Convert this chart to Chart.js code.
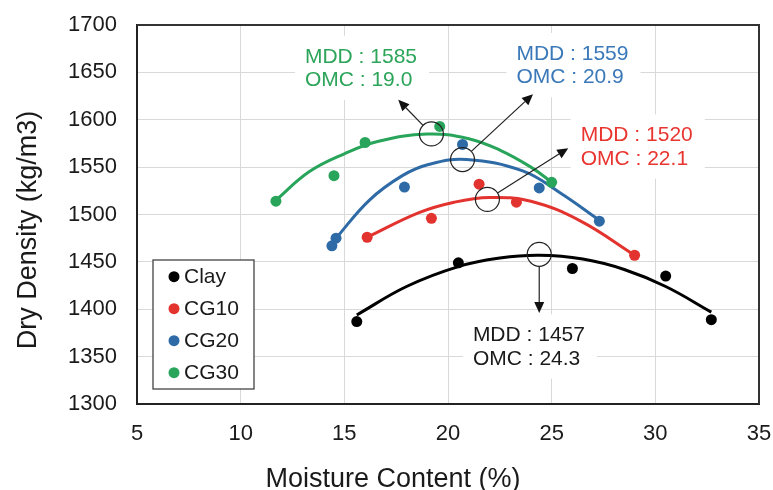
<!DOCTYPE html>
<html>
<head>
<meta charset="utf-8">
<script src="https://cdn.jsdelivr.net/npm/chart.js@4"></script>
<style>
  html, body { margin: 0; padding: 0; background: #fff; }
</style>
</head>
<body>
<canvas id="compactionChart" width="773" height="490"></canvas>
<script>
// measured points
const clayX = [15.6, 20.5, 26.0, 30.5, 32.7];
const clayY = [1387, 1449, 1443, 1435, 1389];
const cg10X = [16.1, 19.2, 21.5, 23.3, 29.0];
const cg10Y = [1476, 1496, 1532, 1513, 1457];
const cg20X = [14.4, 14.6, 17.9, 20.7, 24.4, 27.3];
const cg20Y = [1467, 1475, 1529, 1574, 1528, 1493];
const cg30X = [11.7, 14.5, 16.0, 19.6, 25.0];
const cg30Y = [1514, 1541, 1576, 1593, 1534];

// trend curves
const clayFitX = [15.6, 18.0, 20.5, 22.5, 24.4, 26.5, 28.5, 30.5, 32.7];
const clayFitY = [1394, 1424, 1445, 1454, 1457, 1453, 1442, 1424, 1397];
const cg10FitX = [16.1, 18.6, 20.3, 22.0, 24.0, 26.4, 29.0];
const cg10FitY = [1476, 1502, 1513, 1518, 1514, 1493, 1457];
const cg20FitX = [14.6, 16.2, 17.8, 19.1, 20.9, 23.6, 25.4, 27.3];
const cg20FitY = [1475, 1515, 1541, 1553, 1558, 1546, 1523, 1494];
const cg30FitX = [11.7, 13.3, 15.0, 16.6, 19.0, 21.0, 22.5, 24.0, 25.0];
const cg30FitY = [1515, 1545, 1564, 1577, 1585, 1580, 1568, 1550, 1534];

const seriesNames = ['Clay', 'CG10', 'CG20', 'CG30'];
const mdd = [1457, 1520, 1559, 1585];
const omc = ['24.3', '22.1', '20.9', '19.0'];

const xTicks = [5, 10, 15, 20, 25, 30, 35];
const yTicks = [1300, 1350, 1400, 1450, 1500, 1550, 1600, 1650, 1700];
const xTitle = 'Moisture Content (%)';
const yTitle = 'Dry Density (kg/m3)';

const colors = ['#000000', '#e3332f', '#2e6aa6', '#28a55a'];
const textColors = ['#1a1a1a', '#e8352f', '#3a78b8', '#2ca55a'];

// circle, arrow tip and label anchor, in axis units
const callouts = [
  { cx: 24.4, cy: 1458, tx: 24.4, ty: 1396, lx: 21.2, ly: 1382 },
  { cx: 21.9, cy: 1516, tx: 25.8, ty: 1570, lx: 26.4, ly: 1593 },
  { cx: 20.7, cy: 1558, tx: 24.1, ty: 1627, lx: 23.3, ly: 1679 },
  { cx: 19.2, cy: 1585, tx: 17.6, ty: 1621, lx: 13.1, ly: 1676 }
];

const FONT = "'Liberation Sans', Arial, sans-serif";

function pts(xs, ys) {
  return xs.map((x, i) => ({ x: x, y: ys[i] }));
}

const pointSets = [pts(clayX, clayY), pts(cg10X, cg10Y), pts(cg20X, cg20Y), pts(cg30X, cg30Y)];
const fitSets = [pts(clayFitX, clayFitY), pts(cg10FitX, cg10FitY), pts(cg20FitX, cg20FitY), pts(cg30FitX, cg30FitY)];

const datasets = [];
pointSets.forEach((d, i) => {
  datasets.push({
    label: seriesNames[i],
    data: d,
    showLine: false,
    pointRadius: 5.5,
    pointHoverRadius: 5.5,
    pointBackgroundColor: colors[i],
    pointBorderWidth: 0
  });
});
fitSets.forEach((d, i) => {
  datasets.push({
    label: seriesNames[i] + ' fit',
    data: d,
    showLine: true,
    pointRadius: 0,
    borderColor: colors[i],
    borderWidth: 3,
    tension: 0.4,
    fill: false
  });
});

function labelLines(i) {
  return ['MDD : ' + mdd[i], 'OMC : ' + omc[i]];
}

const calloutPlugin = {
  id: 'callouts',
  beforeDatasetsDraw(chart) {
    const ctx = chart.ctx;
    const xs = chart.scales.x, ys = chart.scales.y;
    const a = chart.chartArea;
    ctx.save();
    // top and right frame
    ctx.strokeStyle = '#333';
    ctx.lineWidth = 2;
    ctx.beginPath();
    ctx.moveTo(a.left, a.top);
    ctx.lineTo(a.right, a.top);
    ctx.lineTo(a.right, a.bottom);
    ctx.stroke();
    // white boxes behind the labels
    ctx.font = '21px ' + FONT;
    callouts.forEach((c, i) => {
      const lines = labelLines(i);
      const w = Math.max(...lines.map(t => ctx.measureText(t).width));
      const lx = xs.getPixelForValue(c.lx);
      const ly = ys.getPixelForValue(c.ly);
      ctx.fillStyle = '#fff';
      ctx.fillRect(lx - 10, ly - 12, w + 22, 23.3 + 15 + 26);
    });
    ctx.restore();
  },
  afterDatasetsDraw(chart) {
    const ctx = chart.ctx;
    const xs = chart.scales.x, ys = chart.scales.y;
    const a = chart.chartArea;
    ctx.save();
    callouts.forEach((c, i) => {
      const cx = xs.getPixelForValue(c.cx), cy = ys.getPixelForValue(c.cy);
      const tx = xs.getPixelForValue(c.tx), ty = ys.getPixelForValue(c.ty);
      const r = 12;
      ctx.strokeStyle = '#222';
      ctx.lineWidth = 1.2;
      ctx.beginPath();
      ctx.arc(cx, cy, r, 0, Math.PI * 2);
      ctx.stroke();

      const dx = tx - cx, dy = ty - cy;
      const len = Math.hypot(dx, dy);
      const ux = dx / len, uy = dy / len;
      const head = 11, half = 5;
      ctx.beginPath();
      ctx.moveTo(cx + ux * r, cy + uy * r);
      ctx.lineTo(tx - ux * head, ty - uy * head);
      ctx.stroke();
      ctx.fillStyle = '#111';
      ctx.beginPath();
      ctx.moveTo(tx, ty);
      ctx.lineTo(tx - ux * head - uy * half, ty - uy * head + ux * half);
      ctx.lineTo(tx - ux * head + uy * half, ty - uy * head - ux * half);
      ctx.closePath();
      ctx.fill();

      const lx = xs.getPixelForValue(c.lx);
      const ly = ys.getPixelForValue(c.ly);
      ctx.font = '21px ' + FONT;
      ctx.fillStyle = textColors[i];
      ctx.textBaseline = 'alphabetic';
      ctx.textAlign = 'left';
      labelLines(i).forEach((t, k) => {
        ctx.fillText(t, lx, ly + 15 + k * 23.3);
      });
    });

    // legend box
    const bx = a.left + 16, bw = 101, bh = 129, by = a.bottom - 15 - bh;
    ctx.fillStyle = '#fff';
    ctx.fillRect(bx, by, bw, bh);
    ctx.strokeStyle = '#444';
    ctx.lineWidth = 1.3;
    ctx.strokeRect(bx, by, bw, bh);
    ctx.font = '21px ' + FONT;
    ctx.textBaseline = 'middle';
    ctx.textAlign = 'left';
    seriesNames.forEach((name, i) => {
      const yy = by + 16.7 + i * 32;
      ctx.fillStyle = colors[i];
      ctx.beginPath();
      ctx.arc(bx + 21, yy, 5.5, 0, Math.PI * 2);
      ctx.fill();
      ctx.fillStyle = '#1a1a1a';
      ctx.fillText(name, bx + 31, yy + 1);
    });

    // axis titles (placed like the source, off the plot centre)
    ctx.fillStyle = '#1a1a1a';
    ctx.font = '27px ' + FONT;
    ctx.textAlign = 'center';
    ctx.textBaseline = 'alphabetic';
    ctx.fillText(xTitle, 393, 487);
    ctx.save();
    ctx.translate(35.5, 230);
    ctx.rotate(-Math.PI / 2);
    ctx.fillText(yTitle, 0, 0);
    ctx.restore();
    ctx.restore();
  }
};

const ctx = document.getElementById('compactionChart').getContext('2d');
new Chart(ctx, {
  type: 'scatter',
  data: { datasets: datasets },
  options: {
    responsive: false,
    devicePixelRatio: 1,
    animation: false,
    events: [],
    layout: { padding: { top: 25, right: 14, left: 0, bottom: 0 } },
    plugins: {
      legend: { display: false },
      tooltip: { enabled: false }
    },
    scales: {
      x: {
        type: 'linear',
        min: 5,
        max: 35,
        afterBuildTicks: (scale) => { scale.ticks = xTicks.map(v => ({ value: v })); },
        afterFit: (scale) => {
          scale.height = 86;
          scale.paddingLeft = 0;
          scale.paddingRight = 0;
        },
        ticks: { color: '#1a1a1a', font: { family: FONT, size: 22 }, padding: 17, callback: (v) => String(v) },
        grid: { color: '#d9d9d9', lineWidth: 1, drawTicks: false },
        border: { display: true, color: '#222', width: 2 },
        title: { display: false }
      },
      y: {
        type: 'linear',
        min: 1300,
        max: 1700,
        afterBuildTicks: (scale) => { scale.ticks = yTicks.map(v => ({ value: v })); },
        afterFit: (scale) => {
          scale.width = 137;
          scale.paddingTop = 0;
          scale.paddingBottom = 0;
        },
        ticks: { color: '#1a1a1a', font: { family: FONT, size: 22 }, padding: 20, callback: (v) => String(v) },
        grid: { color: '#d9d9d9', lineWidth: 1, drawTicks: false },
        border: { display: true, color: '#222', width: 2 },
        title: { display: false }
      }
    }
  },
  plugins: [calloutPlugin]
});
</script>
</body>
</html>
